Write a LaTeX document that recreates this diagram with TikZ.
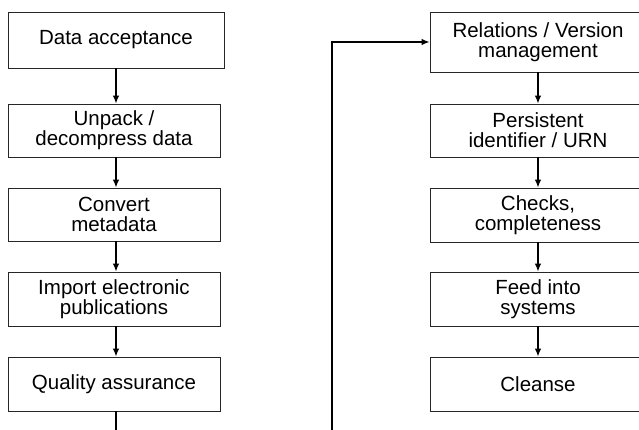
\documentclass[tikz,border=0pt]{standalone}
\usepackage{fontspec}
\setmainfont{Liberation Sans}
\usetikzlibrary{arrows.meta}
\begin{document}
\begin{tikzpicture}[x=1pt,y=-1pt,
  stepbox/.style={draw=black!85, line width=0.8pt, fill=white, inner sep=0pt,
    align=center, font=\fontsize{20.5}{20}\selectfont},
  flow/.style={draw=black, line width=1.3pt,
    -{Latex[length=8pt,width=6.5pt]}},
  wire/.style={draw=black, line width=1.3pt}]
  % page frame and clipping
  \fill[white] (0,0) rectangle (639,430);
  \useasboundingbox (0,0) rectangle (639,430);
  \clip (0,0) rectangle (639,430);

  % left column
  \node[stepbox, minimum width=216pt, minimum height=56pt] (a1) at (116,40) {Data acceptance};
  \node[stepbox, minimum width=212pt, minimum height=53pt] (a2) at (114,130.5) {Unpack /\\decompress data};
  \node[stepbox, minimum width=212pt, minimum height=53pt] (a3) at (114,214.5) {Convert\\metadata};
  \node[stepbox, minimum width=212pt, minimum height=54pt] (a4) at (114,299) {Import electronic\\publications};
  \node[stepbox, minimum width=212pt, minimum height=54pt] (a5) at (114,384) {Quality assurance};

  % right column
  \node[stepbox, minimum width=216pt, minimum height=60pt] (b1) at (538,42) {Relations / Version\\management};
  \node[stepbox, minimum width=216pt, minimum height=53pt] (b2) at (538,130.5) {Persistent\\identifier / URN};
  \node[stepbox, minimum width=216pt, minimum height=54pt] (b3) at (538,215) {Checks,\\completeness};
  \node[stepbox, minimum width=216pt, minimum height=54pt] (b4) at (538,299) {Feed into\\systems};
  \node[stepbox, minimum width=216pt, minimum height=54pt] (b5) at (538,384) {Cleanse};

  % left column flow
  \draw[flow] (a1.south) -- (a2.north -| a1.south);
  \draw[flow] (a2.south -| a1.south) -- (a3.north -| a1.south);
  \draw[flow] (a3.south -| a1.south) -- (a4.north -| a1.south);
  \draw[flow] (a4.south -| a1.south) -- (a5.north -| a1.south);

  % right column flow
  \draw[flow] (b1.south) -- (b2.north);
  \draw[flow] (b2.south) -- (b3.north);
  \draw[flow] (b3.south) -- (b4.north);
  \draw[flow] (b4.south) -- (b5.north);

  % hand-over from the left column to the right column, routed below the page
  \coordinate (turn) at (332,460);
  \draw[flow] (a5.south -| a1.south) |- (turn) -- (turn |- b1.west) -- (b1.west);
\end{tikzpicture}
\end{document}
